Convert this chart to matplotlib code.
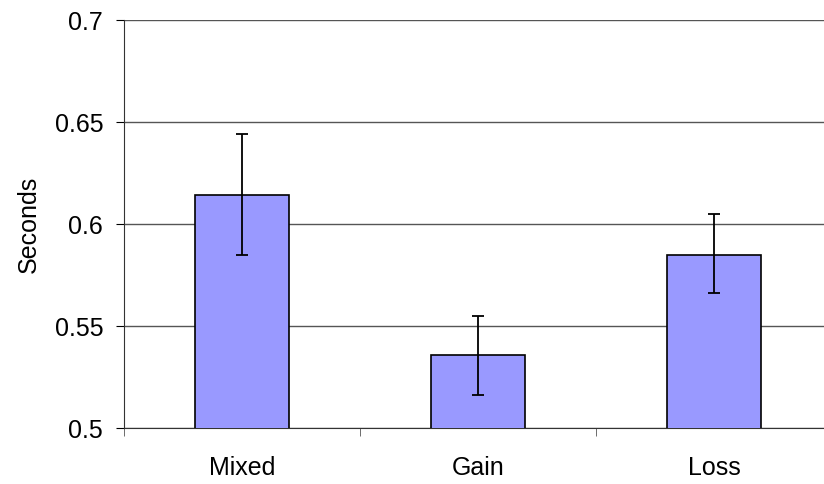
import matplotlib
matplotlib.use("Agg")
import matplotlib.pyplot as plt
from matplotlib.ticker import FixedLocator

categories = ["Mixed", "Gain", "Loss"]
means = [0.614, 0.536, 0.585]
err_low = [0.585, 0.516, 0.566]
err_high = [0.644, 0.555, 0.605]

plt.rcParams['font.family'] = ['Liberation Sans', 'DejaVu Sans']

fig = plt.figure(figsize=(8.24, 4.84), dpi=100)
# axes runs off the right edge like the original
ax = fig.add_axes([124 / 824, 1 - 428 / 484, 708 / 824, 408 / 484])

x = list(range(len(categories)))
yerr = [[m - lo for m, lo in zip(means, err_low)],
        [hi - m for m, hi in zip(means, err_high)]]
ax.bar(x, means, width=0.4, color="#9999FF", edgecolor="black", linewidth=1.2, zorder=3)
ax.errorbar(x, means, yerr=yerr, fmt="none", ecolor="black", elinewidth=1.3,
            capsize=4.5, capthick=1.3, zorder=4)

ax.set_xlim(-0.5, 2.5)
ax.set_ylim(0.5, 0.7)
ax.set_yticks([0.5, 0.55, 0.6, 0.65, 0.7])
ax.set_yticklabels(["0.5", "0.55", "0.6", "0.65", "0.7"])
ax.yaxis.grid(True, color="#555555", linewidth=1.0, zorder=0)
ax.set_axisbelow(True)

ax.set_xticks(x)
ax.set_xticklabels(categories)
ax.tick_params(axis="x", which="major", length=0, pad=20, labelsize=18)
ax.xaxis.set_minor_locator(FixedLocator([-0.5, 0.5, 1.5, 2.5]))
ax.tick_params(axis="x", which="minor", length=6, direction="out", color="#555555")
ax.tick_params(axis="y", length=6, direction="out", labelsize=18, pad=9)

ax.set_ylabel("Seconds", fontsize=18, labelpad=10)

for s in ["top", "right"]:
    ax.spines[s].set_visible(False)
ax.spines["left"].set_color("#333333")
ax.spines["bottom"].set_color("#333333")

fig.savefig("out.png", dpi=100)
